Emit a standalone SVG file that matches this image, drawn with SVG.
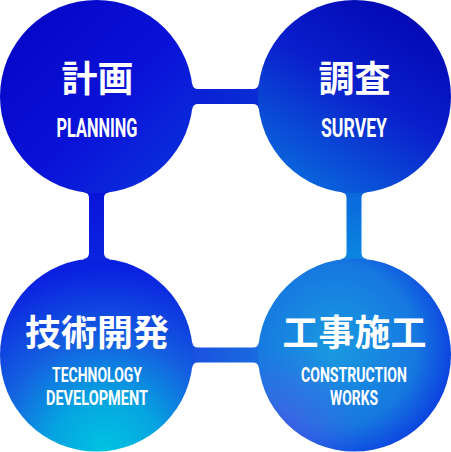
<svg xmlns="http://www.w3.org/2000/svg" width="451" height="452" viewBox="0 0 451 452">
  <defs>
    <linearGradient id="gTL" x1="0" y1="0" x2="1" y2="1">
      <stop offset="0" stop-color="#0404c2"/>
      <stop offset="0.55" stop-color="#0a12d8"/>
      <stop offset="1" stop-color="#0a36dc"/>
    </linearGradient>
    <linearGradient id="gTR" x1="0.9" y1="0" x2="0.3" y2="1">
      <stop offset="0" stop-color="#0004ae"/>
      <stop offset="0.5" stop-color="#0a1ecc"/>
      <stop offset="1" stop-color="#0a66dc"/>
    </linearGradient>
    <radialGradient id="gBL" cx="0.55" cy="1" r="0.95">
      <stop offset="0" stop-color="#00c4e2"/>
      <stop offset="0.3" stop-color="#06a4e0"/>
      <stop offset="0.6" stop-color="#1462e0"/>
      <stop offset="1" stop-color="#0a22e0"/>
    </radialGradient>
    <radialGradient id="gBR" cx="0.4" cy="0.45" r="0.65">
      <stop offset="0" stop-color="#1a9ae0"/>
      <stop offset="0.65" stop-color="#1678e0"/>
      <stop offset="1" stop-color="#0a38e0"/>
    </radialGradient>
    <radialGradient id="gBRp" cx="0.12" cy="0.88" r="0.42">
      <stop offset="0" stop-color="#5a5ae8" stop-opacity="0.6"/>
      <stop offset="1" stop-color="#5a5ae8" stop-opacity="0"/>
    </radialGradient>
    <linearGradient id="gCT" x1="0" y1="0" x2="1" y2="0">
      <stop offset="0" stop-color="#0a1ed6"/>
      <stop offset="1" stop-color="#0a2ed4"/>
    </linearGradient>
    <linearGradient id="gCL" x1="0" y1="0" x2="0" y2="1">
      <stop offset="0" stop-color="#0a12d8"/>
      <stop offset="1" stop-color="#0a26e0"/>
    </linearGradient>
    <linearGradient id="gCR" x1="0" y1="0" x2="0" y2="1">
      <stop offset="0" stop-color="#0a64dc"/>
      <stop offset="1" stop-color="#0a8ae0"/>
    </linearGradient>
    <linearGradient id="gCB" x1="0" y1="0" x2="1" y2="0">
      <stop offset="0" stop-color="#1a4ee0"/>
      <stop offset="1" stop-color="#1a6ee0"/>
    </linearGradient>
  </defs>
  <style>
    .jp { font-family: "Noto Sans CJK JP", "Noto Sans CJK SC", sans-serif; font-weight: 700; font-size: 36px; fill: #fff; text-anchor: middle; }
    .en { font-family: Roboto, "Liberation Sans", sans-serif; font-weight: 700; fill: #fff; text-anchor: middle; }
    .en1 { font-size: 25px; }
    .en2 { font-size: 21px; }
  </style>
  <g id="connectors">
    <path fill="url(#gCT)" d="M185,84 L192.2,84 Q193,89 198,89 L253,89 Q258,89 258.8,84 L266,84 L266,109 L258.8,109 Q258,104 253,104 L198,104 Q193,104 192.2,109 L185,109 Z"/>
    <path fill="url(#gCL)" d="M84,185 L84,192.2 Q89,193 89,198 L89,253 Q89,258 84,258.8 L84,266 L109,266 L109,258.8 Q104,258 104,253 L104,198 Q104,193 109,192.2 L109,185 Z"/>
    <path fill="url(#gCR)" d="M341.5,185 L341.5,192.2 Q346.5,193 346.5,198 L346.5,253 Q346.5,258 341.5,258.8 L341.5,266 L366.5,266 L366.5,258.8 Q361.5,258 361.5,253 L361.5,198 Q361.5,193 366.5,192.2 L366.5,185 Z"/>
    <path fill="url(#gCB)" d="M185,342.5 L192.2,342.5 Q193,347.5 198,347.5 L253,347.5 Q258,347.5 258.8,342.5 L266,342.5 L266,367.5 L258.8,367.5 Q258,362.5 253,362.5 L198,362.5 Q193,362.5 192.2,367.5 L185,367.5 Z"/>
  </g>
  <g id="planning">
    <circle cx="96.5" cy="96.5" r="96.5" fill="url(#gTL)"/>
    <text class="jp" x="97.5" y="92">計画</text>
    <text class="en en1" transform="translate(97,137) scale(0.72,1)" x="0" y="0" textLength="112.5" lengthAdjust="spacingAndGlyphs">PLANNING</text>
  </g>
  <g id="survey">
    <circle cx="354.5" cy="96.5" r="96.5" fill="url(#gTR)"/>
    <text class="jp" x="354.5" y="92">調査</text>
    <text class="en en1" transform="translate(354,137) scale(0.72,1)" x="0" y="0" textLength="91.7" lengthAdjust="spacingAndGlyphs">SURVEY</text>
  </g>
  <g id="technology">
    <circle cx="96.5" cy="355" r="96.5" fill="url(#gBL)"/>
    <text class="jp" x="97" y="346">技術開発</text>
    <text class="en en2" transform="translate(97,382) scale(0.72,1)" x="0" y="0" textLength="125" lengthAdjust="spacingAndGlyphs">TECHNOLOGY</text>
    <text class="en en2" transform="translate(97,405) scale(0.72,1)" x="0" y="0" textLength="141.7" lengthAdjust="spacingAndGlyphs">DEVELOPMENT</text>
  </g>
  <g id="construction">
    <circle cx="354.5" cy="355" r="96.5" fill="url(#gBR)"/>
    <circle cx="354.5" cy="355" r="96.5" fill="url(#gBRp)"/>
    <text class="jp" x="354.5" y="346">工事施工</text>
    <text class="en en2" transform="translate(354,382) scale(0.72,1)" x="0" y="0" textLength="147.2" lengthAdjust="spacingAndGlyphs">CONSTRUCTION</text>
    <text class="en en2" transform="translate(354,405) scale(0.72,1)" x="0" y="0" textLength="66.7" lengthAdjust="spacingAndGlyphs">WORKS</text>
  </g>
</svg>
